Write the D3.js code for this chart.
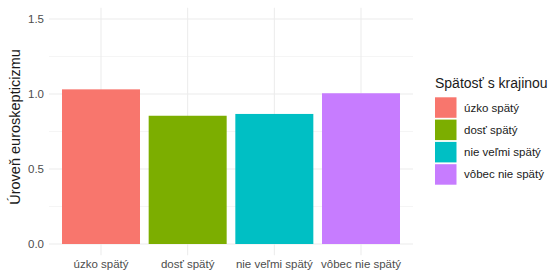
<!DOCTYPE html>
<html><head><meta charset="utf-8">
<script src="https://cdn.jsdelivr.net/npm/d3@7"></script>
<style>body{margin:0;background:#fff}svg{display:block}</style>
</head><body>
<svg id="c" width="560" height="272"></svg>
<script>
const categories = ["úzko spätý", "dosť spätý", "nie veľmi spätý", "vôbec nie spätý"];
const values = [1.031, 0.855, 0.867, 1.005];
const colors = ["#F8766D", "#7CAE00", "#00BFC4", "#C77CFF"];
const yTicks = [0, 0.5, 1.0, 1.5];
const yMinor = [0.25, 0.75, 1.25];
const yTitle = "Úroveň euroskepticizmu";
const legendTitle = "Spätosť s krajinou";

const svg = d3.select("#c");
const font = "'Liberation Sans', Arial, sans-serif";
const L = 49, R = 413, T = 7.75, B = 255.25;

const y = d3.scaleLinear().domain([-0.075, 1.575]).range([B, T]);
const x = d3.scaleBand().domain(categories).range([L, R]).paddingInner(0.1).paddingOuter(0.15);

const g = svg.append("g");
g.selectAll(".ymin").data(yMinor).join("line")
  .attr("x1", L).attr("x2", R).attr("y1", d => y(d)).attr("y2", d => y(d))
  .attr("stroke", "#f2f2f2").attr("stroke-width", 0.8);
g.selectAll(".ymaj").data(yTicks).join("line")
  .attr("x1", L).attr("x2", R).attr("y1", d => y(d)).attr("y2", d => y(d))
  .attr("stroke", "#ebebeb").attr("stroke-width", 1);
g.selectAll(".xmaj").data(categories).join("line")
  .attr("x1", d => x(d) + x.bandwidth() / 2).attr("x2", d => x(d) + x.bandwidth() / 2)
  .attr("y1", T).attr("y2", B)
  .attr("stroke", "#ebebeb").attr("stroke-width", 1);

g.selectAll(".bar").data(categories).join("rect")
  .attr("x", d => x(d)).attr("width", x.bandwidth())
  .attr("y", (d, i) => y(values[i])).attr("height", (d, i) => y(0) - y(values[i]))
  .attr("fill", (d, i) => colors[i]);

const yAxis = svg.append("g").attr("transform", `translate(${L - 5},0)`)
  .call(d3.axisLeft(y).tickValues(yTicks).tickFormat(d3.format(".1f")).tickSize(0).tickPadding(0));
yAxis.select(".domain").remove();
yAxis.selectAll("text").attr("font-family", font).attr("font-size", 11.5).attr("fill", "#4d4d4d");

const xAxis = svg.append("g").attr("transform", `translate(0,${B + 4})`)
  .call(d3.axisBottom(x).tickSize(0).tickPadding(0));
xAxis.select(".domain").remove();
xAxis.selectAll("text").attr("font-family", font).attr("font-size", 11.5).attr("fill", "#4d4d4d").attr("dy", "0.75em");

svg.append("text").attr("transform", `translate(20,127) rotate(-90)`)
  .attr("text-anchor", "middle").attr("font-family", font).attr("font-size", 14.5).attr("fill", "#1a1a1a")
  .text(yTitle);

const lg = svg.append("g");
lg.append("text").attr("x", 435).attr("y", 88).attr("font-family", font).attr("font-size", 14).attr("fill", "#1a1a1a").text(legendTitle);
const keyH = 20.5, pitch = 22.3;
categories.forEach((c, i) => {
  lg.append("rect").attr("x", 435).attr("y", 97.3 + i * pitch).attr("width", 21.5).attr("height", keyH).attr("fill", colors[i]);
  lg.append("text").attr("x", 464).attr("y", 97.3 + i * pitch + keyH / 2).attr("dy", "0.35em")
    .attr("font-family", font).attr("font-size", 11.5).attr("fill", "#1a1a1a").text(c);
});
</script>
</body></html>
